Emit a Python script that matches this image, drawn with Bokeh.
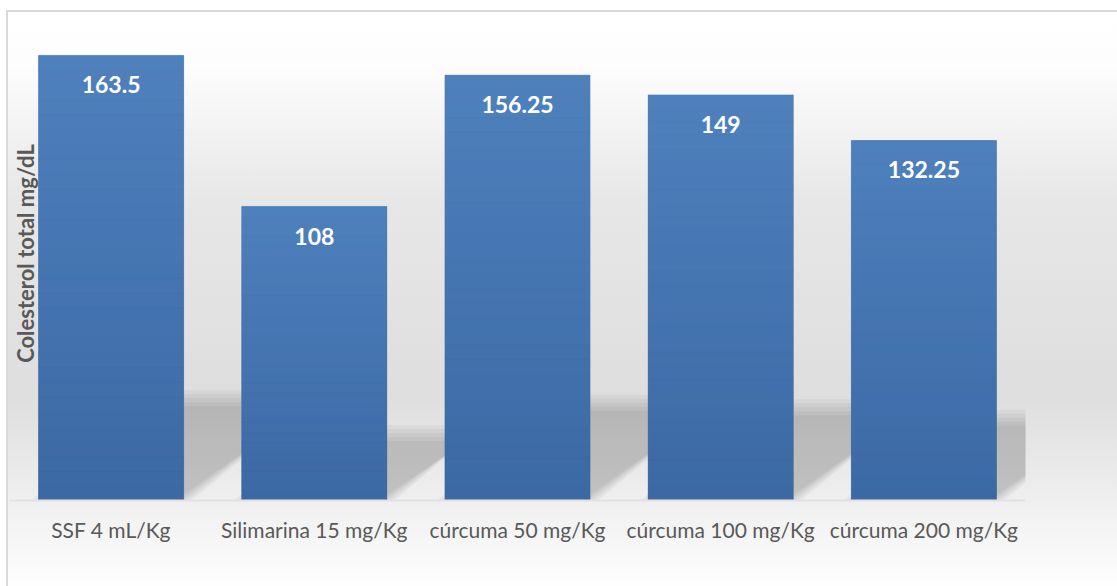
import numpy as np
from bokeh.plotting import figure
from bokeh.models import FixedTicker, Label, ColumnDataSource
from bokeh.core.properties import value
from bokeh.embed import file_html
from bokeh.resources import INLINE

# ---- data ----
categories = ["SSF 4 mL/Kg", "Silimarina 15 mg/Kg", "cúrcuma 50 mg/Kg",
              "cúrcuma 100 mg/Kg", "cúrcuma 200 mg/Kg"]
colesterol = [163.5, 108, 156.25, 149, 132.25]
y_label = "Colesterol total mg/dL"

FONT = "Lato"
W, H = 1117, 586
ML, MR, MT, MB = 9, 92, 10, 86
YMAX = 180
BAR_W = 0.714

p = figure(width=W, height=H, x_range=(-0.5, len(categories) - 0.5), y_range=(0, YMAX),
           output_backend="svg", toolbar_location=None, y_axis_location=None,
           min_border_left=ML, min_border_right=MR, min_border_top=MT, min_border_bottom=MB)
p.styles = {
    "background":
        "linear-gradient(#d9d9d9, #d9d9d9) 6px 10px / 2px 700px no-repeat, "
        "linear-gradient(#d9d9d9, #d9d9d9) 6px 10px / 1300px 2px no-repeat, "
        "linear-gradient(to bottom, #ffffff 0%, #fdfdfd 10%, #f5f5f5 18%, "
        "#e7e7e7 33%, #dedede 67%, #eeeeee 84%, #fefefe 100%) 6px 10px / 1300px 576px no-repeat, "
        "#ffffff",
}
p.background_fill_alpha = 0
p.border_fill_alpha = 0
p.outline_line_color = None
p.xgrid.visible = False
p.ygrid.visible = False

px_x = (W - ML - MR) / len(categories)
px_y = (H - MT - MB) / YMAX

# ---- perspective shadows (derived from data) ----
for i, v in enumerate(colesterol):
    h_px = 0.23 * v * px_y
    s_px = 1.3 * h_px
    for d in [-8, -4, 0, 4, 8]:
        x0 = i - BAR_W / 2 - d / px_x
        x1 = i + BAR_W / 2 + d / px_x
        s = s_px / px_x
        top = (h_px + d) / px_y
        p.patch([x0, x1, x1 + s, x0 + s], [0, 0, top, top],
                fill_color="black", fill_alpha=0.038, line_color=None)

# ---- bars ----
xs = list(range(len(categories)))
src = ColumnDataSource(dict(x=xs, top=colesterol,
                            label=[f"{v:g}" for v in colesterol]))
p.vbar(x="x", top="top", width=BAR_W, source=src, fill_color="#4674b0", line_color=None)

# vertical gradient overlay per bar
N = 30
c_top = np.array([0x4f, 0x81, 0xbd])
c_bot = np.array([0x3c, 0x69, 0xa4])
gx, gb, gt, gc = [], [], [], []
for i, v in enumerate(colesterol):
    for j in range(N):
        f = (j + 0.5) / N
        c = (c_bot + (c_top - c_bot) * f).astype(int)
        gx.append(i)
        gb.append(v * j / N)
        gt.append(v * (j + 1) / N)
        gc.append("#%02x%02x%02x" % tuple(c))
p.vbar(x=gx, bottom=gb, top=gt, width=BAR_W, fill_color=gc, line_color=gc, line_width=0.5)

# ---- data labels ----
p.text(x="x", y="top", text="label", source=src, text_color="white",
       text_font=value(FONT), text_font_style="bold", text_font_size="23px",
       text_align="center", text_baseline="top", y_offset=21)

# ---- axes ----
ax = p.xaxis[0]
ax.ticker = FixedTicker(ticks=xs)
ax.major_label_overrides = {i: c for i, c in enumerate(categories)}
ax.major_tick_line_color = None
ax.minor_tick_line_color = None
ax.major_tick_out = 0
ax.major_tick_in = 0
ax.axis_line_color = "#e2e2e2"
ax.axis_line_width = 2
ax.major_label_text_font = FONT
ax.major_label_text_font_size = "21px"
ax.major_label_text_color = "#595959"
ax.major_label_standoff = 16

# ---- y-axis title ----
p.add_layout(Label(x=-0.5 + 16 / px_x, y=YMAX - 243 / px_y, text=y_label, angle=np.pi / 2,
                   text_font=FONT, text_font_style="bold", text_font_size="22px",
                   text_color="#595959", text_align="center", text_baseline="alphabetic"))

open("out.html", "w").write(file_html(p, INLINE))
